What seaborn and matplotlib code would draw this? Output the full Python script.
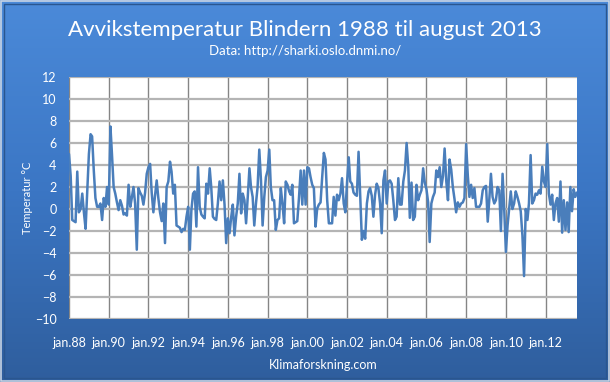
import numpy as np
import pandas as pd
import matplotlib
matplotlib.use("Agg")
import matplotlib.pyplot as plt
from matplotlib.colors import LinearSegmentedColormap
from matplotlib.patches import Rectangle
import seaborn as sns

# Monthly temperature anomaly (deg C), Blindern, jan 1988 - aug 2013
temp_anomaly = [
    5.0, 3.0, -1.0, -1.1, -1.2, 3.4, -0.3, 0.0, 1.4, -0.3, -1.8, 1.5,      # 1988
    5.0, 6.8, 6.6, 3.5, 1.0, 0.2, 0.2, 0.5, -1.0, 1.0, 0.2, 2.0,           # 1989
    0.4, 7.5, 5.0, 2.0, 1.4, 0.6, -0.1, 0.8, 0.3, -0.5, -0.4, -0.6,        # 1990
    2.2, 0.2, 1.0, 2.0, 0.5, -3.7, 1.9, 1.5, 1.2, 0.4, 1.5, 3.2,           # 1991
    3.8, 4.1, 1.5, -0.3, 1.2, 2.6, 1.0, -0.3, -1.1, 0.5, -3.1, 2.0,        # 1992
    2.5, 4.3, 3.4, 1.4, 2.2, -1.5, -1.6, -1.7, -2.1, -1.8, -1.9, -0.7,     # 1993
    0.2, -3.7, -0.1, 1.4, 1.6, -1.6, 3.8, 0.2, -0.5, -0.7, -0.85, 2.3,     # 1994
    1.4, 3.7, 2.0, -0.7, -0.9, -1.0, 0.5, 2.5, 0.8, 2.6, 0.4, -3.1,        # 1995
    -0.85, -2.2, -0.8, 0.4, -2.4, -0.7, 0.5, 3.2, -0.4, 1.4, 0.8, -1.3,    # 1996
    1.1, 3.7, 2.0, 1.1, -1.5, 0.5, 2.0, 5.4, 2.6, -1.5, 1.1, 2.9,          # 1997
    3.5, 5.4, 2.0, 0.8, 0.8, -1.9, -1.0, -0.85, 1.9, 0.5, -1.3, 2.5,       # 1998
    2.2, 1.6, 1.3, 2.2, -1.3, -1.2, -1.1, 1.0, 3.5, 0.4, 3.5, 0.4,         # 1999
    3.8, 3.7, 2.9, 2.2, 1.9, -1.6, 0.05, 0.4, 0.6, 2.9, 5.1, 4.5,          # 2000
    0.8, -1.3, -1.3, -1.3, 1.1, -0.6, 1.3, 0.8, 1.4, 2.8, 0.5, -0.3,       # 2001
    2.4, 4.7, 2.5, 2.3, 1.5, 1.3, 1.2, 5.2, 1.0, -2.8, -2.0, -2.7,         # 2002
    0.5, 1.6, 1.9, 1.2, -0.7, 1.3, 2.3, 1.9, 0.5, -2.2, 2.6, 3.5,          # 2003
    0.5, 2.5, 2.6, 2.3, 0.8, -1.0, -0.7, 2.8, 0.4, 0.4, 2.5, 3.5,          # 2004
    6.0, 3.8, -0.8, 2.4, -1.0, -0.7, 2.2, 0.8, 1.3, 1.7, 3.7, 2.4,         # 2005
    1.8, 0.6, -3.0, 0.5, 1.1, 1.5, 3.5, 2.9, 3.8, 2.0, 3.0, 5.5,           # 2006
    2.5, 0.8, 4.5, 3.6, 2.0, 0.9, -0.3, 0.6, 0.2, 0.5, 0.6, 1.0,           # 2007
    5.9, 3.0, 1.1, 2.2, 1.0, 1.9, 0.2, 0.2, 0.2, 0.5, 1.7, 2.0,            # 2008
    2.1, -1.15, 0.8, 3.2, 1.1, 0.5, 0.8, 2.0, 1.7, -2.0, 3.2, 0.0,         # 2009
    -3.9, -1.5, 0.0, 1.6, 0.0, 0.5, 1.6, 1.1, 0.5, -0.2, -2.4, -6.1,       # 2010
    0.0, -1.0, 0.5, 4.9, 0.5, 0.8, 1.4, 1.3, 1.7, 1.4, 3.85, 2.5,          # 2011
    2.0, 5.9, 1.4, 0.4, 1.3, -1.0, 0.5, 1.0, -1.15, 2.5, -2.15, 0.8,       # 2012
    -1.9, 0.6, -2.1, 2.0, -0.2, 1.8, 1.1, 1.5,                             # 2013 (jan-aug)
]
tick_years = list(range(1988, 2013, 2))
tick_labels = ["jan.88", "jan.90", "jan.92", "jan.94", "jan.96", "jan.98", "jan.00",
               "jan.02", "jan.04", "jan.06", "jan.08", "jan.10", "jan.12"]
y_ticks = list(range(-10, 13, 2))

months = pd.date_range("1988-01-01", periods=len(temp_anomaly), freq="MS")
df = pd.DataFrame({"dato": months, "avvik": temp_anomaly})

sns.set_style("white")
plt.rcParams["font.family"] = ["Lato", "DejaVu Sans"]

fig = plt.figure(figsize=(6.1, 3.82), dpi=100)

# blue gradient background with a thin frame
bg = fig.add_axes([0, 0, 1, 1], zorder=-1)
cmap = LinearSegmentedColormap.from_list("bg", ["#4b8ad9", "#3b76c4", "#2f5e9d"])
bg.imshow(np.linspace(0, 1, 256).reshape(-1, 1), aspect="auto", cmap=cmap,
          extent=[0, 1, 0, 1])
bg.add_patch(Rectangle((0.002, 0.003), 0.996, 0.994, fill=False,
                       edgecolor="#c8d4e4", lw=1.2, transform=bg.transAxes))
bg.add_patch(Rectangle((0.006, 0.01), 0.988, 0.98, fill=False,
                       edgecolor="#2a568f", lw=1.0, transform=bg.transAxes))
bg.set_xlim(0, 1)
bg.set_ylim(0, 1)
bg.axis("off")

ax = fig.add_axes([69 / 610, 1 - 319 / 382, 508 / 610, 242 / 382])
ax.set_facecolor("white")
sns.lineplot(data=df, x="dato", y="avvik", ax=ax, color="#4a7ebb", lw=1.8)

ax.set_ylim(-10, 12)
ax.set_yticks(y_ticks)
ax.set_xlim(months[0], months[-1])
ax.set_xticks(pd.to_datetime([f"{y}-01-01" for y in tick_years]), tick_labels)

ax.grid(axis="y", color="#b4b4b4", lw=1.6)
ax.grid(axis="x", color="#858585", lw=1)
ax.set_axisbelow(True)
for s in ax.spines.values():
    s.set_visible(False)

ax.tick_params(axis="y", colors="white", length=4, width=1, labelsize=9, pad=5)
ax.tick_params(axis="x", colors="white", length=0, labelsize=9, pad=13)
ax.set_xlabel("Klimaforskning.com", color="white", fontsize=9, labelpad=7)
ax.set_ylabel("Temperatur °C", color="white", fontsize=8, labelpad=1)

fig.text(0.5, 1 - 30 / 382, "Avvikstemperatur Blindern 1988 til august 2013",
         color="white", fontsize=16, ha="center", va="center")
fig.text(0.5, 1 - 51 / 382, "Data: http://sharki.oslo.dnmi.no/",
         color="white", fontsize=9.5, ha="center", va="center")

fig.savefig("out.png", dpi=100)
